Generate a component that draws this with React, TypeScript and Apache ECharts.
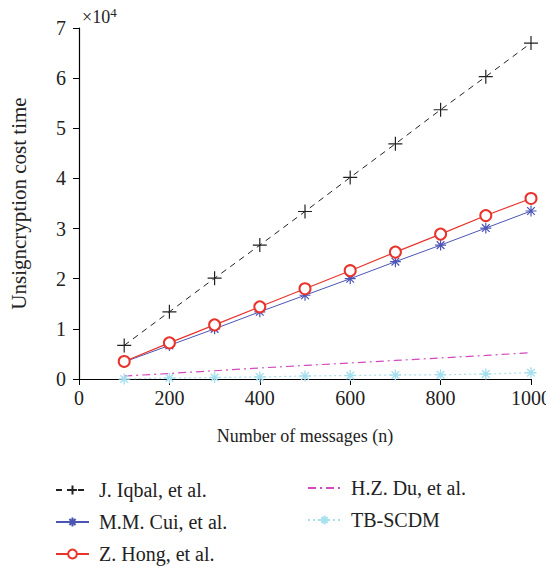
import React, { useEffect, useRef } from "react";
import * as echarts from "echarts";

const messages = [100, 200, 300, 400, 500, 600, 700, 800, 900, 1000];
const iqbal = [6700, 13400, 20100, 26700, 33400, 40200, 46900, 53700, 60300, 67000];
const cui = [3400, 6700, 10000, 13400, 16700, 20000, 23400, 26700, 30100, 33500];
const hong = [3500, 7200, 10800, 14400, 18000, 21600, 25300, 28900, 32600, 36000];
const du = [600, 1100, 1650, 2200, 2700, 3200, 3700, 4200, 4700, 5250];
const tbscdm = [0, 200, 300, 400, 600, 700, 800, 850, 1000, 1250];
const yTicks = [0, 10000, 20000, 30000, 40000, 50000, 60000, 70000];

const FONT = "'Liberation Serif', 'DejaVu Serif', serif";
const PLUS = "path://M-1,0L1,0M0,-1L0,1";
const STAR = "path://M-1,0L1,0M0,-1L0,1M-0.7,-0.7L0.7,0.7M-0.7,0.7L0.7,-0.7";

export default function App() {
  const ref = useRef<HTMLDivElement>(null);
  useEffect(() => {
    if (!ref.current) return;
    const chart = echarts.init(ref.current, null, { renderer: "svg" });
    const pts = (vals: number[]) => messages.map((m, i) => [m, vals[i]]);
    const legendText = {
      fontFamily: FONT,
      fontSize: 20,
      lineHeight: 20,
      color: "#222",
      padding: [0, 0, 0, 5],
    };
    chart.setOption({
      animation: false,
      backgroundColor: "#fff",
      textStyle: { fontFamily: FONT },
      grid: { left: 79, right: 14, top: 28, bottom: 188 },
      xAxis: {
        type: "value",
        min: 0,
        max: 1000,
        interval: 200,
        name: "Number of messages (n)",
        nameLocation: "middle",
        nameGap: 48,
        nameTextStyle: { fontFamily: FONT, fontSize: 18, color: "#222" },
        axisLine: { lineStyle: { color: "#000", width: 1.2 } },
        axisTick: { length: 6, lineStyle: { color: "#000" } },
        axisLabel: {
          fontFamily: FONT,
          fontSize: 20,
          color: "#222",
          margin: 9,
          formatter: (v: number) => String(v),
        },
        splitLine: { show: false },
      },
      yAxis: {
        type: "value",
        min: yTicks[0],
        max: yTicks[yTicks.length - 1],
        interval: 10000,
        name: "Unsigncryption cost time",
        nameLocation: "middle",
        nameGap: 50,
        nameTextStyle: { fontFamily: FONT, fontSize: 21, color: "#222" },
        axisLine: { show: true, lineStyle: { color: "#000", width: 1.2 } },
        axisTick: { show: true, length: 6, lineStyle: { color: "#000" } },
        axisLabel: {
          fontFamily: FONT,
          fontSize: 20,
          color: "#222",
          margin: 13,
          formatter: (v: number) => String(v / 10000),
        },
        splitLine: { show: false },
      },
      graphic: [
        {
          type: "text",
          left: 82,
          top: 6,
          style: {
            text: "×10{sup|4}",
            font: `18px ${FONT}`,
            fill: "#222",
            rich: { sup: { fontSize: 13, verticalAlign: "top", padding: [0, 0, 8, 0], fontFamily: FONT } },
          },
        },
      ],
      legend: [
        {
          left: 55,
          top: 480,
          height: 120,
          orient: "vertical",
          padding: 0,
          itemWidth: 33,
          itemHeight: 11,
          itemGap: 12,
          textStyle: legendText,
          data: ["J. Iqbal, et al.", "M.M. Cui, et al.", "Z. Hong, et al."],
        },
        {
          left: 307,
          top: 478,
          height: 120,
          orient: "vertical",
          padding: 0,
          itemWidth: 33,
          itemHeight: 11,
          itemGap: 12,
          textStyle: legendText,
          data: [{ name: "H.Z. Du, et al.", itemStyle: { opacity: 0 } }, "TB-SCDM"],
        },
      ],
      series: [
        {
          name: "J. Iqbal, et al.",
          type: "line",
          data: pts(iqbal),
          symbol: PLUS,
          symbolSize: 14,
          itemStyle: { color: "#222", borderColor: "#222", borderWidth: 1.2 },
          lineStyle: { color: "#222", width: 1, type: [6, 5] },
        },
        {
          name: "M.M. Cui, et al.",
          type: "line",
          data: pts(cui),
          symbol: STAR,
          symbolSize: 11,
          itemStyle: { color: "#4b55b5", borderColor: "#4b55b5", borderWidth: 1.2 },
          lineStyle: { color: "#4b55b5", width: 1 },
        },
        {
          name: "Z. Hong, et al.",
          type: "line",
          data: pts(hong),
          symbol: "emptyCircle",
          symbolSize: 11,
          itemStyle: { color: "#e8342c", borderColor: "#e8342c", borderWidth: 1.2 },
          lineStyle: { color: "#e8342c", width: 1.2 },
        },
        {
          name: "H.Z. Du, et al.",
          type: "line",
          data: pts(du),
          symbol: "none",
          itemStyle: { color: "#d349c2" },
          lineStyle: { color: "#d349c2", width: 1.2, type: [8, 4, 2, 4] },
        },
        {
          name: "TB-SCDM",
          type: "line",
          data: pts(tbscdm),
          symbol: STAR,
          symbolSize: 11,
          itemStyle: { color: "#a6e0ef", borderColor: "#a6e0ef", borderWidth: 1.4 },
          lineStyle: { color: "#a6e0ef", width: 1.2, type: [2, 3] },
        },
      ],
    });
    return () => chart.dispose();
  }, []);
  return <div ref={ref} style={{ width: 554, height: 567, marginLeft: -8, marginTop: -8 }} />;
}
